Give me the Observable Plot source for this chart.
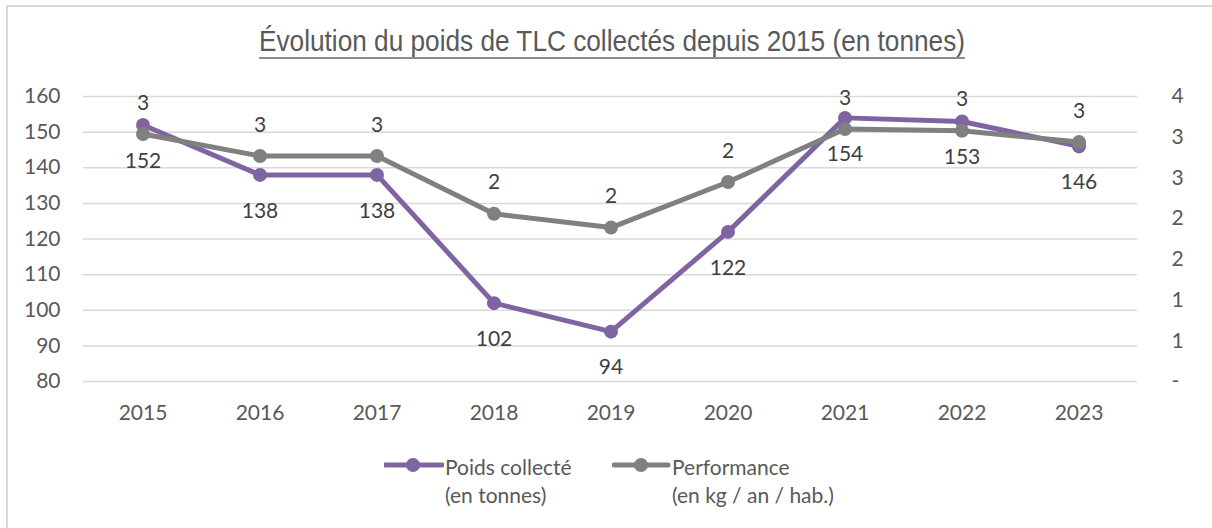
<!DOCTYPE html>
<html>
<head>
<meta charset="utf-8">
<script src="https://cdn.jsdelivr.net/npm/d3@7"></script>
<script src="https://cdn.jsdelivr.net/npm/@observablehq/plot@0.6"></script>
<style>
  html, body { margin: 0; padding: 0; background: #fff; }
  body { width: 1212px; height: 528px; position: relative; overflow: hidden; font-family: Lato, "Open Sans", sans-serif; }
  #frame { position: absolute; left: 6px; top: 5px; width: 1300px; height: 600px; border-left: 2px solid #d9d9d9; border-top: 2px solid #d9d9d9; pointer-events: none; }
  #title { position: absolute; left: 0; top: 26px; white-space: nowrap; font-family: "Liberation Sans", Arial, sans-serif; font-size: 30px; line-height: 30px; color: #595959; transform-origin: 0 0; }
  #uline { position: absolute; left: 259px; width: 706px; top: 57px; height: 2px; background: #8c8c8c; }
  #chart { position: absolute; left: 0; top: 70px; }
  .leg { position: absolute; top: 453px; font-size: 21px; color: #595959; line-height: 28px; white-space: nowrap; }
  .leg svg { position: absolute; top: 2px; }
</style>
</head>
<body>
<div id="frame"></div>
<div id="title">Évolution du poids de TLC collectés depuis 2015 (en tonnes)</div>
<div id="uline"></div>
<div id="chart"></div>
<div class="leg" style="left:445px">
  <svg width="60" height="24" style="left:-61px"><line x1="1" x2="58" y1="10" y2="10" stroke="#8064A2" stroke-width="5" stroke-linecap="round"/><circle cx="29" cy="10" r="7" fill="#8064A2"/></svg>
  Poids collecté<br>(en tonnes)
</div>
<div class="leg" style="left:672px">
  <svg width="60" height="24" style="left:-60px"><line x1="2" x2="56" y1="10" y2="10" stroke="#808080" stroke-width="5" stroke-linecap="round"/><circle cx="29" cy="10" r="7" fill="#808080"/></svg>
  Performance<br>(en kg / an / hab.)
</div>
<script>
const years = ["2015","2016","2017","2018","2019","2020","2021","2022","2023"];
const poids = [152, 138, 138, 102, 94, 122, 154, 153, 146];
const performance = [3.04, 2.77, 2.77, 2.06, 1.89, 2.45, 3.10, 3.08, 2.94];
const leftTicks = [80, 90, 100, 110, 120, 130, 140, 150, 160];
const rightTicks = [0, 0.5, 1, 1.5, 2, 2.5, 3, 3.5];

const purple = "#8064A2";
const grey = "#808080";

// fit the title to the reference width (narrow look)
(function () {
  const t = document.getElementById("title");
  const w = t.getBoundingClientRect().width;
  const target = 706;
  const s = target / w;
  t.style.left = "259px";
  t.style.transform = `scaleX(${s})`;
})();

// secondary axis (0..3.5) mapped onto the primary axis (80..160)
const toLeft = v => 80 + v * 80 / 3.5;
const toRight = d => Math.round((d - 80) * 3.5 / 80 * 1000) / 1000;

const poidsData = years.map((y, i) => ({year: y, v: poids[i]}));
const perfData = years.map((y, i) => ({year: y, p: performance[i], v: toLeft(performance[i])}));

const plot = Plot.plot({
  width: 1212,
  height: 360,
  marginLeft: 83,
  marginRight: 75,
  marginTop: 26,
  marginBottom: 49,
  style: {fontFamily: "Lato, 'Open Sans', sans-serif", fontSize: "21px", color: "#595959", background: "transparent", overflow: "visible"},
  x: {type: "band", domain: years, padding: 0},
  y: {domain: [80, 160]},
  marks: [
    Plot.gridY(leftTicks, {stroke: "#d9d9d9", strokeOpacity: 1, strokeWidth: 1.5}),
    Plot.axisX({tickSize: 0, tickPadding: 24, label: null, fill: "#595959"}),
    Plot.axisY({anchor: "left", ticks: leftTicks, tickSize: 0, tickPadding: 23, label: null, fill: "#595959"}),
    Plot.axisY({anchor: "right", ticks: rightTicks.map(toLeft), tickSize: 0, tickPadding: 34, label: null, fill: "#595959",
      tickFormat: d => { const p = toRight(d); return p === 0 ? "-" : String(Math.round(p)); }}),
    Plot.line(poidsData, {x: "year", y: "v", stroke: purple, strokeWidth: 5}),
    Plot.dot(poidsData, {x: "year", y: "v", r: 7, fill: purple}),
    Plot.line(perfData, {x: "year", y: "v", stroke: grey, strokeWidth: 5}),
    Plot.dot(perfData, {x: "year", y: "v", r: 7, fill: grey}),
    Plot.text(poidsData, {x: "year", y: "v", text: d => String(d.v), dy: 36, fill: "#404040", fontSize: 21}),
    Plot.text(perfData, {x: "year", y: "v", text: d => String(Math.round(d.p)), dy: -31, fill: "#404040", fontSize: 21})
  ]
});
document.getElementById("chart").appendChild(plot);
</script>
</body>
</html>
